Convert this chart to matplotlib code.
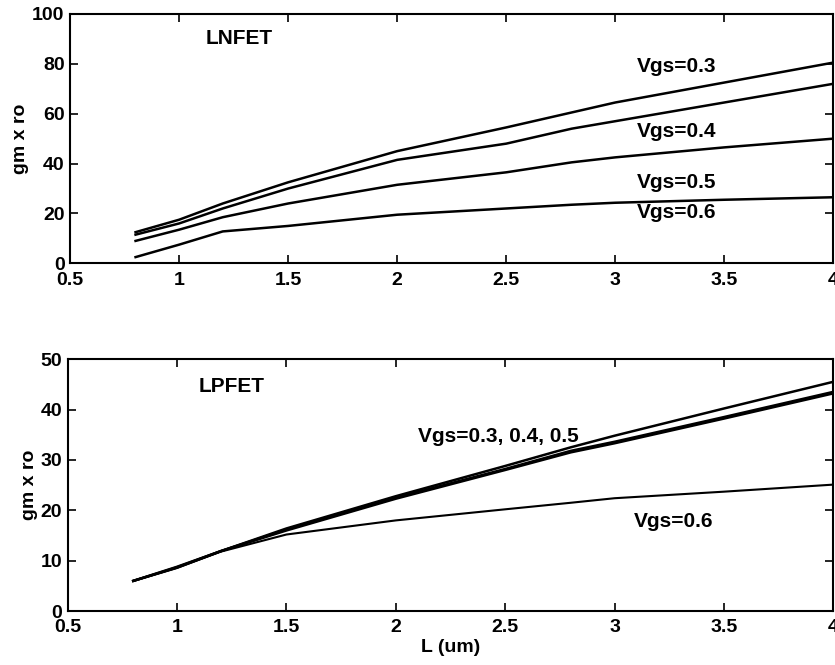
import numpy as np
import matplotlib.pyplot as plt

plt.rcParams['font.family'] = ['Liberation Sans', 'DejaVu Sans']
plt.rcParams['font.size'] = 15
plt.rcParams['font.weight'] = 'bold'
plt.rcParams['axes.labelweight'] = 'bold'

# channel length (um)
L = [0.8, 1.0, 1.2, 1.5, 2.0, 2.5, 2.8, 3.0, 3.5, 4.0]

# LNFET gm*ro
n_03 = [12.5, 17.5, 24.0, 32.5, 45.0, 54.5, 60.5, 64.5, 72.5, 80.5]
n_04 = [11.5, 16.0, 22.0, 30.0, 41.5, 48.0, 54.0, 57.0, 64.5, 72.0]
n_05 = [9.0, 13.5, 18.5, 24.0, 31.5, 36.5, 40.5, 42.5, 46.5, 50.0]
n_06 = [2.5, 7.5, 12.8, 15.0, 19.5, 22.0, 23.5, 24.3, 25.5, 26.5]

# LPFET gm*ro
p_03 = [6.0, 8.8, 11.9, 16.4, 22.8, 28.8, 32.5, 34.8, 40.2, 45.5]
p_04 = [6.0, 8.7, 11.9, 16.2, 22.5, 28.2, 31.8, 33.6, 38.5, 43.5]
p_05 = [6.0, 8.6, 11.9, 16.0, 22.3, 28.0, 31.5, 33.3, 38.2, 43.2]
p_06 = [6.0, 8.6, 11.8, 15.2, 18.0, 20.2, 21.5, 22.4, 23.7, 25.1]

fig = plt.figure(figsize=(8.35, 6.65), dpi=100)
ax1 = fig.add_axes([0.084, 0.604, 0.914, 0.375])
ax2 = fig.add_axes([0.081, 0.081, 0.917, 0.379])


def style(ax, ymax, ystep):
    ax.set_xlim(0.5, 4)
    ax.set_ylim(0, ymax)
    ax.set_xticks(np.arange(0.5, 4.01, 0.5))
    ax.set_xticklabels(['0.5', '1', '1.5', '2', '2.5', '3', '3.5', '4'])
    ax.set_yticks(np.arange(0, ymax + 0.1, ystep))
    ax.tick_params(direction='in', top=True, right=True, length=6, width=1.2,
                   labelsize=14)
    ax.tick_params(axis='x', pad=6)
    ax.tick_params(axis='y', pad=4)
    for s in ax.spines.values():
        s.set_linewidth(1.5)


for y in (n_03, n_04, n_05, n_06):
    ax1.plot(L, y, color='black', lw=1.8)
style(ax1, 100, 20)
ax1.set_ylabel('gm x ro', labelpad=2, fontsize=14)
ax1.text(1.12, 88, 'LNFET')
ax1.text(3.1, 79, 'Vgs=0.3', va='center')
ax1.text(3.1, 53, 'Vgs=0.4', va='center')
ax1.text(3.1, 32.5, 'Vgs=0.5', va='center')
ax1.text(3.1, 20.5, 'Vgs=0.6', va='center')

for y in (p_03, p_04, p_05):
    ax2.plot(L, y, color='black', lw=1.8)
ax2.plot(L, p_06, color='black', lw=1.5)
style(ax2, 50, 10)
ax2.set_ylabel('gm x ro', labelpad=2, fontsize=14)
ax2.set_xlabel('L (um)', labelpad=2, fontsize=14)
ax2.text(1.1, 44.5, 'LPFET', va='center')
ax2.text(2.1, 34.6, 'Vgs=0.3, 0.4, 0.5', va='center')
ax2.text(3.09, 17.7, 'Vgs=0.6', va='center')

fig.savefig('out.png', dpi=100)
